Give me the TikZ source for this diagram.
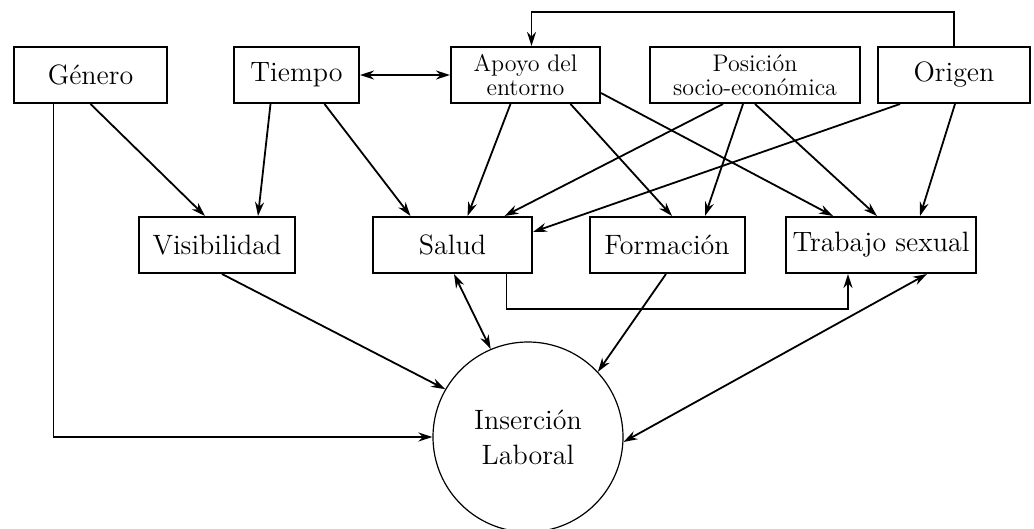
\documentclass[tikz,border=0pt]{standalone}
\usepackage{tikz}
\usetikzlibrary{arrows.meta}
\usetikzlibrary{calc}

\tikzset{
  caja/.style={draw, line width=1pt, minimum height=28pt, inner sep=0pt, align=center, font=\fontsize{14}{16}\selectfont},
  cajachica/.style={caja, font=\fontsize{12}{12}\selectfont},
  flecha/.style={line width=0.9pt, -{Stealth[length=7pt,width=4.5pt]}},
  doble/.style={line width=0.9pt, {Stealth[length=7pt,width=4.5pt]}-{Stealth[length=7pt,width=4.5pt]}}
}

\begin{document}
\begin{tikzpicture}[x=0.5pt, y=-0.5pt]
            \useasboundingbox (0,0) rectangle (1034,529);

            % top row
            \node[caja, minimum width=76.5pt] (genero) at (90.5,75) {Género};
            \node[caja, minimum width=62.5pt] (tiempo) at (296.5,75) {Tiempo};
            \node[cajachica, minimum width=74.5pt] (apoyo) at (525.5,75) {Apoyo del\\entorno};
            \node[cajachica, minimum width=105pt] (posicion) at (755,75) {Posición\\socio-económica};
            \node[caja, minimum width=76pt] (origen) at (954,75) {Origen};

            % middle row
            \node[caja, minimum width=78pt] (visib) at (217,245) {Visibilidad};
            \node[caja, minimum width=79.5pt] (salud) at (452.5,245) {Salud};
            \node[caja, minimum width=77.5pt] (formacion) at (667,245) {Formación};
            \node[caja, minimum width=95pt] (trabajo) at (881,245) {Trabajo sexual};

            % circle
            \node[circle, draw, line width=0.6pt, minimum size=95pt, align=center,
                  font=\fontsize{14}{17.5}\selectfont] (insercion) at (528,437) {Inserción\\Laboral};

            % arrows from the top row
            \draw[flecha] ($(genero.south)+(-37,0)$) |- (insercion.west);
            \draw[flecha] (genero.south) -- ($(visib.north)+(-12,0)$);
            \draw[flecha] ($(tiempo.south)+(-26,0)$) -- ($(visib.north)+(41,0)$);
            \draw[flecha] ($(tiempo.south)+(28,0)$) -- ($(salud.north)+(-42,0)$);
            \draw[doble] (tiempo.east) -- (apoyo.west);
            \draw[flecha] ($(apoyo.south)+(-15,0)$) -- ($(salud.north)+(15,0)$);
            \draw[flecha] ($(apoyo.south)+(45,0)$) -- ($(formacion.north)+(5,0)$);
            \draw[flecha] ($(apoyo.east)+(0,18)$) -- ($(trabajo.north)+(-48,0)$);
            \draw[flecha] ($(posicion.south)+(-32,0)$) -- ($(salud.north)+(52,0)$);
            \draw[flecha] ($(posicion.south)+(-12,0)$) -- ($(formacion.north)+(38,0)$);
            \draw[flecha] (posicion.south) -- ($(trabajo.north)+(-4,0)$);
            \draw[flecha] ($(origen.south)+(-54,0)$) -- ($(salud.east)+(0,-13)$);
            \draw[flecha] ($(origen.south)+(1,0)$) -- ($(trabajo.north)+(39,0)$);
            \draw[flecha] (origen.north) -- ++(0,-34) -| ($(apoyo.north)+(6,0)$);

            % arrows to the circle
            \draw[flecha] ($(visib.south)+(5,0)$) -- (insercion.150);
            \draw[doble] ($(salud.south)+(1.5,0)$) -- (insercion.113);
            \draw[flecha] ($(salud.south)+(54,0)$) -- ++(0,35) -| ($(trabajo.south)+(-33,0)$);
            \draw[flecha] ($(formacion.south)+(-1,0)$) -- (insercion.43);
            \draw[doble] ($(trabajo.south)+(46,0)$) -- (insercion.-3);
        \end{tikzpicture}
\end{document}
